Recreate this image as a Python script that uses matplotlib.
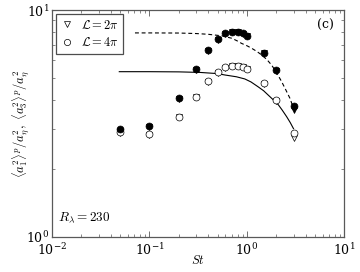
import numpy as np
import matplotlib
matplotlib.use("Agg")
import matplotlib.pyplot as plt
from matplotlib.ticker import NullFormatter

plt.rcParams['mathtext.fontset'] = 'cm'
plt.rcParams['font.family'] = ['DejaVu Serif']
plt.rcParams['font.size'] = 9

# Data
st = [0.05, 0.1, 0.2, 0.3, 0.4, 0.5, 0.6, 0.7, 0.8, 0.9, 1.0, 1.5, 2.0, 3.0]
# L = 4pi (circles)
a1_4pi = [2.90, 2.84, 3.39, 4.15, 4.85, 5.31, 5.59, 5.68, 5.68, 5.63, 5.50, 4.75, 4.01, 2.88]
a3_4pi = [2.98, 3.08, 4.08, 5.48, 6.66, 7.43, 7.89, 8.02, 8.00, 7.89, 7.71, 6.48, 5.44, 3.78]
# L = 2pi (triangles)
a1_2pi = [2.86, 2.82, 3.37, 4.12, 4.82, 5.29, 5.57, 5.66, 5.66, 5.61, 5.48, 4.72, 3.98, 2.74]
a3_2pi = [2.93, 3.04, 4.05, 5.45, 6.63, 7.40, 7.86, 7.99, 7.97, 7.86, 7.67, 6.45, 5.41, 3.62]

# fit curves
fit1_st = [0.049, 0.1, 0.2, 0.33, 0.49, 0.6, 0.78, 0.95, 1.1, 1.3, 1.48, 1.65, 1.85, 2.1, 2.3, 2.55, 2.78, 3.0]
fit1_v = [5.35, 5.35, 5.34, 5.31, 5.25, 5.17, 5.08, 4.97, 4.82, 4.59, 4.41, 4.22, 4.03, 3.82, 3.62, 3.39, 3.19, 3.0]
fit3_st = [0.071, 0.1, 0.2, 0.3, 0.4, 0.55, 0.7, 0.8, 0.88, 1.0, 1.12, 1.27, 1.42, 1.6, 1.79, 2.0, 2.27, 2.5, 2.76, 3.0]
fit3_v = [7.93, 7.93, 7.92, 7.88, 7.82, 7.70, 7.51, 7.30, 7.13, 6.96, 6.78, 6.56, 6.33, 6.05, 5.72, 5.32, 4.83, 4.45, 4.08, 3.69]

fig = plt.figure(figsize=(3.6, 2.72), dpi=100)
ax = fig.add_axes([0.1444, 0.129, 0.8125, 0.834])

ms = 5
ax.plot(fit1_st, fit1_v, '-', color='k', lw=0.8, zorder=1)
ax.plot(fit3_st, fit3_v, '--', color='k', lw=0.8, dashes=(3.5, 2.5), zorder=1)

ax.plot(st, a1_2pi, 'v', ms=ms, mfc='white', mec='k', mew=0.5, ls='none', zorder=2)
ax.plot(st, a3_2pi, 'v', ms=ms, mfc='k', mec='k', mew=0.5, ls='none', zorder=2)
ax.plot(st, a1_4pi, 'o', ms=ms, mfc='white', mec='k', mew=0.5, ls='none', zorder=3)
ax.plot(st, a3_4pi, 'o', ms=ms, mfc='k', mec='k', mew=0.5, ls='none', zorder=3)

h1, = ax.plot([], [], 'v', ms=4.5, mfc='white', mec='k', mew=0.5, ls='none')
h2, = ax.plot([], [], 'o', ms=4.5, mfc='white', mec='k', mew=0.5, ls='none')
leg = ax.legend([h1, h2], [r'$\mathcal{L}=2\pi$', r'$\mathcal{L}=4\pi$'],
                loc='upper left', fancybox=False, edgecolor='0.3', framealpha=1,
                fontsize=9, handlelength=1.0, handletextpad=0.6,
                borderpad=0.35, labelspacing=0.35, borderaxespad=0.35)
leg.get_frame().set_linewidth(0.9)

ax.set_xscale('log')
ax.set_yscale('log')
ax.set_xlim(1e-2, 1e1)
ax.set_ylim(1e0, 1e1)
ax.xaxis.set_minor_formatter(NullFormatter())
ax.yaxis.set_minor_formatter(NullFormatter())
ax.set_xlabel(r'$St$', fontsize=9)
ax.xaxis.set_label_coords(0.5, -0.075)
ax.set_ylabel(r'$\langle a_1^2\rangle^p/a_\eta^2,\ \langle a_3^2\rangle^p/a_\eta^2$', fontsize=9)
ax.yaxis.set_label_coords(-0.07, 0.5)

ax.text(0.965, 0.93, r'(c)', transform=ax.transAxes, ha='right', va='center', fontsize=9,
        family='serif')
ax.text(0.02, 0.085, r'$R_\lambda=230$', transform=ax.transAxes, ha='left', va='center', fontsize=9.5)

for s in ax.spines.values():
    s.set_color('0.35')
    s.set_linewidth(0.9)
ax.tick_params(which='both', direction='in', top=True, right=True, color='0.35')
ax.tick_params(which='major', length=4, width=0.6, labelsize=9, pad=2)
ax.tick_params(axis='x', which='major', pad=4)
ax.tick_params(which='minor', length=2, width=0.5)

fig.savefig('out.png', dpi=100)
